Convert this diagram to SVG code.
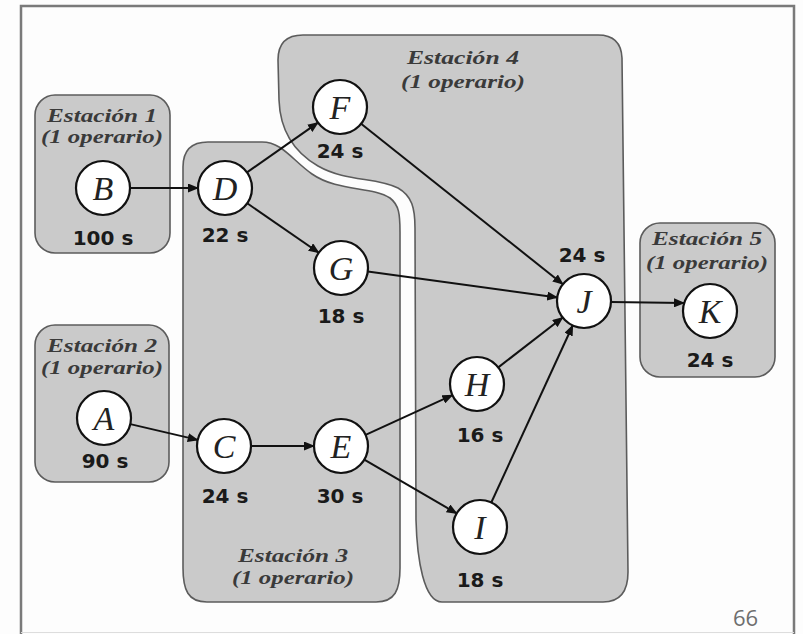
<svg xmlns="http://www.w3.org/2000/svg" width="803" height="634" viewBox="0 0 803 634">
  <defs>
    <marker id="arrow" markerUnits="userSpaceOnUse" markerWidth="11" markerHeight="9" refX="10" refY="4.5" orient="auto">
      <path d="M0,0 L11,4.5 L0,9 Z" fill="#111"/>
    </marker>
  </defs>
  <style>
    .station { fill: #cacaca; stroke: #5c5c5c; stroke-width: 1.6; }
    .title { font-family: "Liberation Serif", "DejaVu Serif", serif; font-style: italic; font-weight: bold; font-size: 18.5px; fill: #3a3a3a; text-anchor: middle; }
    .node circle { fill: #ffffff; stroke: #111; stroke-width: 2.2; }
    .letter { font-family: "Liberation Serif", "DejaVu Serif", serif; font-style: italic; font-size: 34px; fill: #222; text-anchor: middle; }
    .time { font-family: "DejaVu Sans", "Liberation Sans", sans-serif; font-weight: bold; font-size: 20px; fill: #1a1a1a; text-anchor: middle; }
    .edge { stroke: #111; stroke-width: 2; fill: none; marker-end: url(#arrow); }
  </style>

  <rect width="803" height="634" fill="#fdfdfd"/>
  <!-- slide frame -->
  <path d="M21,634 L21,6 L794,6 L794,634" fill="none" stroke="#7a7a7a" stroke-width="2.5"/>
  <line x1="21" y1="632.5" x2="794" y2="632.5" stroke="#dddddd" stroke-width="1"/>

  <!-- workstation areas -->
  <g id="estacion1">
    <rect class="station" x="35" y="95" width="135" height="158" rx="20"/>
    <text class="title" x="102" y="122" textLength="110" lengthAdjust="spacingAndGlyphs">Estación 1</text>
    <text class="title" x="102" y="143" textLength="122" lengthAdjust="spacingAndGlyphs">(1 operario)</text>
  </g>
  <g id="estacion2">
    <rect class="station" x="35" y="325" width="134" height="157" rx="20"/>
    <text class="title" x="102" y="352" textLength="110" lengthAdjust="spacingAndGlyphs">Estación 2</text>
    <text class="title" x="102" y="374" textLength="122" lengthAdjust="spacingAndGlyphs">(1 operario)</text>
  </g>
  <g id="estacion3">
    <path class="station" d="M183,167 Q183,142 208,142 L262,142 C282,142 292,160 312,174 C338,192 372,186 390,198 C399,205 400,214 400,232 L400,568 C400,590 395,602 376,602 L207,602 C188,602 183,590 183,568 Z"/>
    <text class="title" x="293" y="562" textLength="110" lengthAdjust="spacingAndGlyphs">Estación 3</text>
    <text class="title" x="293" y="584" textLength="122" lengthAdjust="spacingAndGlyphs">(1 operario)</text>
  </g>
  <g id="estacion4">
    <path class="station" d="M278,60 Q278,35 303,35 L598,35 Q621,35 622,58 L628,572 Q628,602 603,602 L442,602 C424,602 417,560 416,520 L415,228 C415,208 412,196 398,188 C376,177 346,182 318,166 C292,151 280,128 279,100 Z"/>
    <text class="title" x="463" y="64" textLength="112" lengthAdjust="spacingAndGlyphs">Estación 4</text>
    <text class="title" x="463" y="88" textLength="124" lengthAdjust="spacingAndGlyphs">(1 operario)</text>
  </g>
  <g id="estacion5">
    <rect class="station" x="640" y="223" width="135" height="154" rx="20"/>
    <text class="title" x="707" y="245" textLength="110" lengthAdjust="spacingAndGlyphs">Estación 5</text>
    <text class="title" x="707" y="269" textLength="122" lengthAdjust="spacingAndGlyphs">(1 operario)</text>
  </g>

  <!-- precedence arrows -->
  <g id="connectors">
    <line class="edge" x1="130" y1="188" x2="198" y2="188"/>
    <line class="edge" x1="247" y1="172.4" x2="318" y2="122.6"/>
    <line class="edge" x1="247.2" y1="203.3" x2="318.8" y2="252.7"/>
    <line class="edge" x1="361.1" y1="123.8" x2="562.9" y2="284.2"/>
    <line class="edge" x1="367.8" y1="271.6" x2="557.2" y2="297.4"/>
    <line class="edge" x1="130.3" y1="424.1" x2="197.7" y2="439.9"/>
    <line class="edge" x1="251" y1="446" x2="314" y2="446"/>
    <line class="edge" x1="365.6" y1="434.8" x2="452.4" y2="395.2"/>
    <line class="edge" x1="364.3" y1="459.6" x2="456.7" y2="513.4"/>
    <line class="edge" x1="498.3" y1="367.4" x2="562.7" y2="317.5"/>
    <line class="edge" x1="491.3" y1="502.5" x2="572.7" y2="325.5"/>
    <line class="edge" x1="611" y1="302" x2="684" y2="303"/>
  </g>

  <!-- tasks -->
  <g id="node-A" class="node">
    <circle cx="104" cy="418" r="27"/>
    <text class="letter" x="104" y="430">A</text>
    <text class="time" x="105" y="468">90 s</text>
  </g>
  <g id="node-B" class="node">
    <circle cx="103" cy="188" r="27"/>
    <text class="letter" x="103" y="200">B</text>
    <text class="time" x="103" y="245">100 s</text>
  </g>
  <g id="node-C" class="node">
    <circle cx="224" cy="446" r="27"/>
    <text class="letter" x="224" y="458">C</text>
    <text class="time" x="225" y="503">24 s</text>
  </g>
  <g id="node-D" class="node">
    <circle cx="225" cy="188" r="27"/>
    <text class="letter" x="225" y="200">D</text>
    <text class="time" x="225" y="242">22 s</text>
  </g>
  <g id="node-E" class="node">
    <circle cx="341" cy="446" r="27"/>
    <text class="letter" x="341" y="458">E</text>
    <text class="time" x="340" y="503">30 s</text>
  </g>
  <g id="node-F" class="node">
    <circle cx="340" cy="107" r="27"/>
    <text class="letter" x="340" y="119">F</text>
    <text class="time" x="340" y="158">24 s</text>
  </g>
  <g id="node-G" class="node">
    <circle cx="341" cy="268" r="27"/>
    <text class="letter" x="341" y="280">G</text>
    <text class="time" x="341" y="323">18 s</text>
  </g>
  <g id="node-H" class="node">
    <circle cx="477" cy="384" r="27"/>
    <text class="letter" x="477" y="396">H</text>
    <text class="time" x="480" y="442">16 s</text>
  </g>
  <g id="node-I" class="node">
    <circle cx="480" cy="527" r="27"/>
    <text class="letter" x="480" y="539">I</text>
    <text class="time" x="480" y="587">18 s</text>
  </g>
  <g id="node-J" class="node">
    <circle cx="584" cy="301" r="27"/>
    <text class="letter" x="584" y="313">J</text>
    <text class="time" x="582" y="262">24 s</text>
  </g>
  <g id="node-K" class="node">
    <circle cx="710" cy="311" r="27"/>
    <text class="letter" x="710" y="323">K</text>
    <text class="time" x="710" y="367">24 s</text>
  </g>

  <!-- slide number -->
  <text x="733" y="626" font-family="'Open Sans', 'DejaVu Sans', sans-serif" font-size="22" fill="#6e6e6e">66</text>
</svg>
